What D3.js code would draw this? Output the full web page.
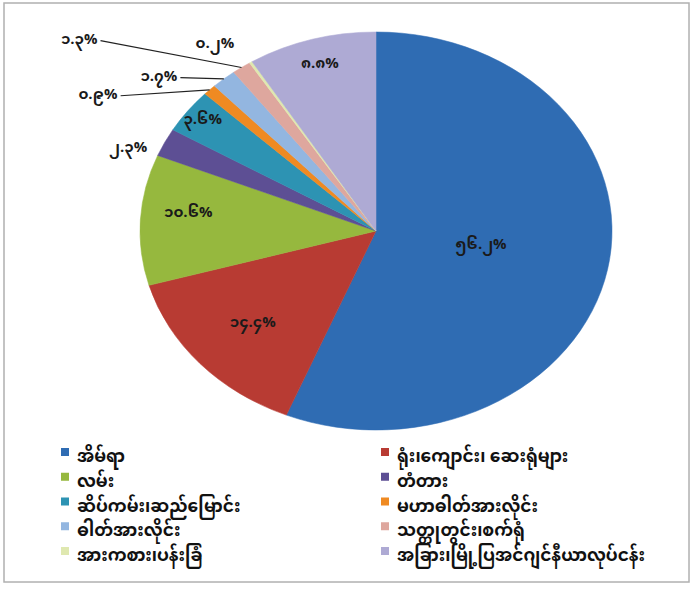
<!DOCTYPE html>
<html>
<head>
<meta charset="utf-8">
<script src="https://cdn.jsdelivr.net/npm/d3@7"></script>
<style>
  body { margin: 0; background: #fff; }
  svg { display: block; }
  text { font-family: "Noto Sans Myanmar", "Padauk", "Myanmar Text", "Noto Sans", sans-serif; }
</style>
</head>
<body>
<script>
// categories, clockwise from 12 o'clock
const categories = [
    'အိမ်ရာ', 'ရုံး၊ကျောင်း၊  ဆေးရုံများ', 'လမ်း', 'တံတား', 'ဆိပ်ကမ်း၊ဆည်မြောင်း',
    'မဟာဓါတ်အားလိုင်း', 'ဓါတ်အားလိုင်း', 'သတ္တုတွင်း၊စက်ရုံ', 'အားကစား၊ပန်းခြံ', 'အခြား၊မြို့ပြအင်ဂျင်နီယာလုပ်ငန်း'
]
const values = [56.2, 14.4, 10.6, 2.3, 3.6, 0.9, 1.7, 1.3, 0.2, 8.8]
const valueLabels = ['၅၆.၂%', '၁၄.၄%', '၁၀.၆%', '၂.၃%', '၃.၆%', '၀.၉%', '၁.၇%', '၁.၃%', '၀.၂%', '၈.၈%']
const colors = ['#2f6cb3', '#b83b33', '#96b83e', '#5d4f94', '#2d93b3', '#ef8a22', '#93b6e0', '#dea79e', '#dfe8b0', '#aeaad4']

// label placement: [angle shift from slice middle (deg), radius factor, leader line]
const labelPlace = [
    [-2, 0.45, false], [0, 0.7, false], [3, 0.8, false], [-4.8, 1.13, false], [0, 0.92, false],
    [-15.2, 1.36, true], [-9.9, 1.2, true], [-18, 1.58, true], [-4, 1.16, false], [0, 0.87, false]
]

const layout = { width: 693, height: 589, cx: 376, cy: 231, rx: 236, ry: 199 }

const svg = d3.select('body').append('svg')
    .attr('width', layout.width)
    .attr('height', layout.height)

svg.append('rect')
    .attr('x', 4).attr('y', 3)
    .attr('width', 685).attr('height', 579)
    .attr('fill', '#fff')
    .attr('stroke', '#b0b0b0')
    .attr('stroke-width', 1.5)

const pie = d3.pie().sort(null).value(d => d)
const arcs = pie(values)
const arc = d3.arc().innerRadius(0).outerRadius(layout.ry)
const sx = layout.rx / layout.ry

// slices drawn on a circle then stretched into the ellipse of the picture
const stage = svg.append('g')
    .attr('transform', `translate(${layout.cx},${layout.cy}) scale(${sx},1)`)

stage.selectAll('path')
    .data(arcs)
    .enter()
    .append('path')
    .attr('d', arc)
    .attr('fill', (d, i) => colors[i])
    .attr('stroke', (d, i) => colors[i])
    .attr('stroke-width', 0.5)

// point on the ellipse for angle a (radians, clockwise from top) and factor r
const pt = (a, r) => [layout.cx + Math.sin(a) * r * layout.rx, layout.cy - Math.cos(a) * r * layout.ry]

const labels = svg.append('g')
arcs.forEach((d, i) => {
    const [shift, r, leader] = labelPlace[i]
    const mid = (d.startAngle + d.endAngle) / 2
    const [x, y] = pt(mid + shift * Math.PI / 180, r)
    const t = labels.append('text')
        .attr('x', x).attr('y', y)
        .attr('text-anchor', 'middle')
        .attr('dominant-baseline', 'central')
        .attr('font-size', 15)
        .attr('font-weight', 'bold')
        .attr('fill', '#1a1a1a')
        .text(valueLabels[i])
    if (leader) {
        const w = t.node().getComputedTextLength()
        const [ex, ey] = pt(mid, 1)
        labels.append('line')
            .attr('x1', x + w / 2 + 3).attr('y1', y)
            .attr('x2', ex).attr('y2', ey)
            .attr('stroke', '#222')
            .attr('stroke-width', 1.2)
    }
})

// legend, two columns, row-major
const legend = svg.append('g')
const legendRow = d3.scaleLinear().domain([0, 4]).range([458, 557])
const legendCol = d3.scaleOrdinal().domain([0, 1]).range([61, 381])
categories.forEach((c, i) => {
    const row = Math.floor(i / 2), col = i % 2
    const g = legend.append('g')
        .attr('transform', `translate(${legendCol(col)},${legendRow(row)})`)
    g.append('rect')
        .attr('x', 0).attr('y', -10)
        .attr('width', 8).attr('height', 8)
        .attr('fill', colors[i])
    g.append('text')
        .attr('x', 16).attr('y', 0)
        .attr('dominant-baseline', 'central')
        .attr('font-size', 17)
        .attr('font-weight', 'bold')
        .attr('fill', '#111')
        .text(c)
})
</script>
</body>
</html>
